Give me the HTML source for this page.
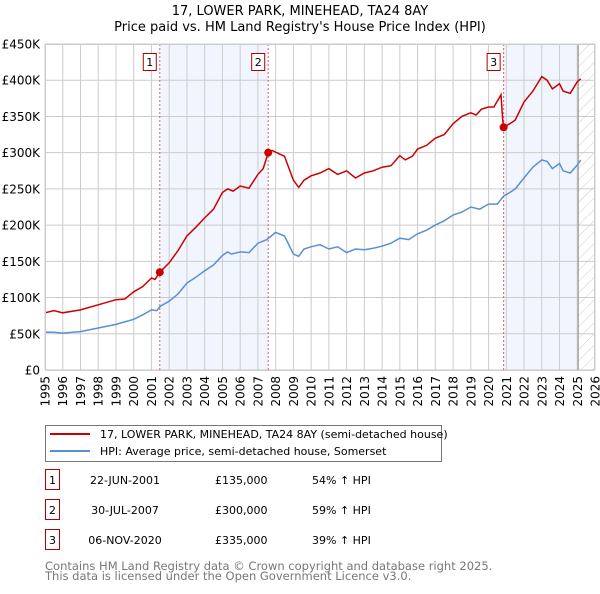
<!DOCTYPE html>
<html><head><meta charset="utf-8"><style>
body{margin:0;background:#fff;font-family:"DejaVu Sans","Liberation Sans",sans-serif;}
svg text{font-family:"DejaVu Sans","Liberation Sans",sans-serif;}
</style></head><body>
<svg id="chart" width="600" height="590" xmlns="http://www.w3.org/2000/svg">
<defs><pattern id="hatch" width="8" height="8" patternUnits="userSpaceOnUse" patternTransform="rotate(45)"><line x1="0" y1="0" x2="0" y2="8" stroke="#ccc" stroke-width="1"/></pattern></defs>
<text x="300" y="15" text-anchor="middle" font-size="13">17, LOWER PARK, MINEHEAD, TA24 8AY</text>
<text x="300" y="31" text-anchor="middle" font-size="13">Price paid vs. HM Land Registry's House Price Index (HPI)</text>
<g id="plot"></g>
<g>
<rect x="45.5" y="425.5" width="396" height="36" fill="#fff" stroke="#777"/>
<line x1="50" y1="434" x2="90" y2="434" stroke="#cc0000" stroke-width="2"/>
<text x="100" y="438" font-size="11">17, LOWER PARK, MINEHEAD, TA24 8AY (semi-detached house)</text>
<line x1="50" y1="451" x2="90" y2="451" stroke="#5b8fd4" stroke-width="2"/>
<text x="100" y="455" font-size="11">HPI: Average price, semi-detached house, Somerset</text>
</g>
<g id="table" font-size="11"></g>
<text x="45" y="570" font-size="11.5" fill="#777">Contains HM Land Registry data © Crown copyright and database right 2025.</text>
<text x="45" y="580" font-size="11.5" fill="#777">This data is licensed under the Open Government Licence v3.0.</text>
</svg>
<script>
const hpiYears=[1995,1995.5,1996,1997,1998,1999,2000,2000.5,2001,2001.3,2001.5,2002,2002.5,2003,2003.5,2004,2004.5,2005,2005.3,2005.5,2006,2006.5,2007,2007.5,2008,2008.5,2009,2009.3,2009.6,2010,2010.5,2011,2011.5,2012,2012.5,2013,2013.5,2014,2014.5,2015,2015.5,2016,2016.5,2017,2017.5,2018,2018.5,2019,2019.5,2020,2020.5,2020.85,2021.2,2021.5,2022,2022.5,2023,2023.3,2023.6,2024,2024.2,2024.6,2025,2025.2];
const hpiValues=[52,52,51,53,58,63,70,76,83,82,88,95,105,120,128,137,145,158,163,160,163,162,175,180,190,185,160,157,167,170,173,167,170,162,167,166,168,171,175,182,180,188,193,200,206,214,218,225,222,229,229,240,245,250,265,280,290,288,278,285,275,272,283,290];
const propYears=[1995,1995.5,1996,1997,1998,1999,1999.5,2000,2000.5,2001,2001.2,2001.47,2002,2002.5,2003,2003.5,2004,2004.5,2005,2005.3,2005.6,2006,2006.5,2007,2007.3,2007.58,2007.8,2008.5,2009,2009.3,2009.6,2010,2010.5,2011,2011.5,2012,2012.5,2013,2013.5,2014,2014.5,2015,2015.3,2015.7,2016,2016.5,2017,2017.5,2018,2018.5,2019,2019.3,2019.6,2020,2020.3,2020.7,2020.8,2020.85,2021.2,2021.5,2022,2022.5,2023,2023.3,2023.6,2024,2024.2,2024.6,2025,2025.2];
const propValues=[79,82,79,83,90,97,98,108,115,127,125,135,148,165,185,197,210,222,245,250,247,254,251,270,278,300,303,295,262,252,262,268,272,278,270,275,265,272,275,280,282,296,290,295,305,310,320,325,340,350,355,352,360,363,363,380,345,335,340,345,370,385,405,400,388,395,385,382,398,402];
const saleYears=[2001.47,2007.58,2020.85];
const saleValues=[135,300,335];
const saleLabels=["1","2","3"];
const saleDates=["22-JUN-2001","30-JUL-2007","06-NOV-2020"];
const salePrices=["£135,000","£300,000","£335,000"];
const saleHpi=["54% ↑ HPI","59% ↑ HPI","39% ↑ HPI"];
const yTicks=[0,50,100,150,200,250,300,350,400,450];
const yTickLabels=["£0","£50K","£100K","£150K","£200K","£250K","£300K","£350K","£400K","£450K"];
const xTicks=[1995,1996,1997,1998,1999,2000,2001,2002,2003,2004,2005,2006,2007,2008,2009,2010,2011,2012,2013,2014,2015,2016,2017,2018,2019,2020,2021,2022,2023,2024,2025,2026];
const dataEnd=2025.05;

const NS="http://www.w3.org/2000/svg";
const L=45,R=595,T=44,B=370;
const xs=y=>L+(y-1995)/(2026-1995)*(R-L);
const ys=v=>B-v/450*(B-T);
const plot=document.getElementById('plot');
function mk(tag,attrs,parent){const e=document.createElementNS(NS,tag);for(const k in attrs)e.setAttribute(k,attrs[k]);(parent||plot).appendChild(e);return e;}

let e;
e=mk('rect',{x:xs(saleYears[0]),y:T,width:xs(saleYears[1])-xs(saleYears[0]),height:B-T,fill:'#eef3fc',opacity:0.8});


e=mk('rect',{x:xs(saleYears[2]),y:T,width:xs(dataEnd)-xs(saleYears[2]),height:B-T,fill:'#eef3fc',opacity:0.8});


e=mk('rect',{x:xs(dataEnd),y:T,width:R-xs(dataEnd),height:B-T,fill:'url(#hatch)'});



xTicks.forEach((t,i)=>{
  e=mk('line',{x1:xs(t),x2:xs(t),y1:T,y2:B,stroke:'#ccc','stroke-width':1});
  
  
  const tx=xs(t)+4.5, ty=376;
  e=mk('text',{x:tx,y:ty,'text-anchor':'end','font-size':12,transform:'rotate(-90 '+tx+' '+ty+')'});
  e.textContent=t;
  
  
});
yTicks.forEach((t,i)=>{
  e=mk('line',{x1:L,x2:R,y1:ys(t),y2:ys(t),stroke:'#ccc','stroke-width':1});
  
  
  e=mk('text',{x:40,y:ys(t)+4.5,'text-anchor':'end','font-size':12});
  e.textContent=yTickLabels[i];
  
  
});
e=mk('line',{x1:xs(dataEnd),x2:xs(dataEnd),y1:T,y2:B,stroke:'#888','stroke-width':1});



saleYears.forEach((s,i)=>{
  e=mk('line',{x1:xs(s),x2:xs(s),y1:T,y2:B,stroke:'#e06060','stroke-width':1,'stroke-dasharray':'2,2'});
  
  
});

function path(xa,va){return xa.map((x,i)=>(i?'L':'M')+xs(x).toFixed(1)+','+ys(va[i]).toFixed(1)).join('');}
e=mk('path',{d:path(hpiYears,hpiValues),fill:'none',stroke:'#5b8fd4','stroke-width':1.5});


e=mk('path',{d:path(propYears,propValues),fill:'none',stroke:'#cc0000','stroke-width':1.5});



saleYears.forEach((s,i)=>{
  e=mk('circle',{cx:xs(s),cy:ys(saleValues[i]),r:4,fill:'#cc0000'});
  
  
  const bx=xs(s)-17;
  e=mk('rect',{x:bx+0.5,y:53.5,width:13,height:17,fill:'#fff',stroke:'#b00000'});
  
  
  e=mk('text',{x:bx+7,y:66,'text-anchor':'middle','font-size':11});
  e.textContent=saleLabels[i];
  
  
});
e=mk('rect',{x:L+0.5,y:T+0.5,width:R-L-1,height:B-T,fill:'none',stroke:'#ccc'});



const tbl=document.getElementById('table');
saleLabels.forEach((lab,i)=>{
  const y=483+i*30;
  e=mk('rect',{x:45.5,y:y-13.5,width:14,height:20,fill:'#fff',stroke:'#b00000'},tbl);
  
  
  e=mk('text',{x:52.5,y:y+1,'text-anchor':'middle'},tbl);e.textContent=lab;
  
  
  e=mk('text',{x:125,y:y+1,'text-anchor':'middle'},tbl);e.textContent=saleDates[i];
  
  
  e=mk('text',{x:215,y:y+1},tbl);e.textContent=salePrices[i];
  
  
  e=mk('text',{x:312,y:y+1},tbl);e.textContent=saleHpi[i];
  
  
});
</script>
</body></html>
